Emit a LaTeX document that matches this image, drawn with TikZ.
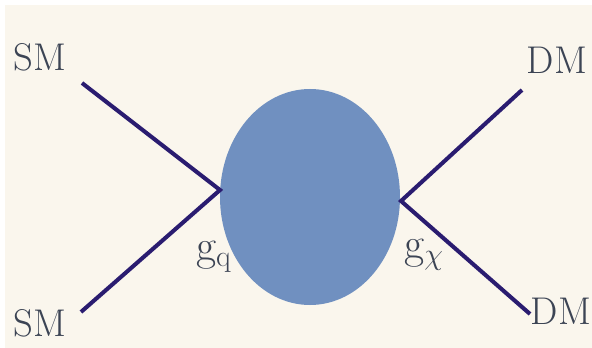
\documentclass[tikz,border=0pt]{standalone}
\usepackage{amsmath}
\usetikzlibrary{calc}

\definecolor{bgcream}{HTML}{FAF6ED}
\definecolor{blobblue}{HTML}{7090C0}
\definecolor{legnavy}{HTML}{2A1C70}
\definecolor{txtgray}{HTML}{3C4454}

\tikzset{
    leg/.style={draw=legnavy, line width=2.3pt},
    lbl/.style={text=txtgray, font=\fontsize{22}{26}\selectfont, inner sep=0pt},
    cpl/.style={text=txtgray, font=\fontsize{24}{28}\selectfont, inner sep=0pt}
}

\begin{document}
\begin{tikzpicture}[x=0.02cm, y=-0.02cm]

    \fill[white] (0,0) rectangle (592,348);
    \fill[bgcream] (5,5) rectangle (592,348);

    % mediator blob
    \fill[blobblue] (310,197) ellipse [x radius=90, y radius=108];

    \coordinate (vq) at (220,190);
    \coordinate (vx) at (401,201);
    \coordinate (smin) at (82,83);
    \coordinate (smout) at (81,312);
    \coordinate (dmin) at (522,90);
    \coordinate (dmout) at (530,314);

    \draw[leg] (smin) -- (vq) -- (smout);
    \draw[leg] (dmin) -- (vx) -- (dmout);

    \node[lbl] (smtop) at (40,57) {SM};
    \node[lbl] (smbot) at (40,323) {SM};
    \node[lbl] (dmtop) at (557,60) {DM};
    \node[lbl] (dmbot) at (561,311) {DM};

    \node[cpl] (gq) at (214,257) {$\mathrm{g}_{\mathrm{q}}$};
    \node[cpl] (gx) at (424,255) {$\mathrm{g}_{\chi}$};

\end{tikzpicture}
\end{document}
